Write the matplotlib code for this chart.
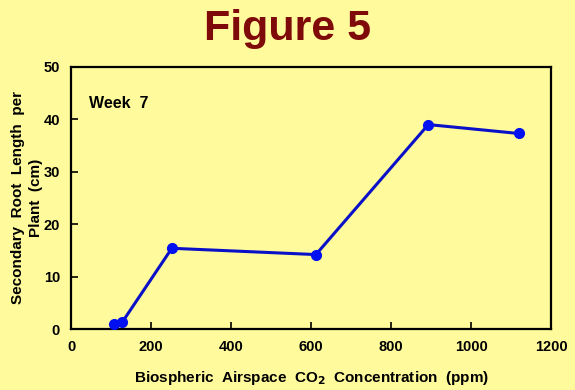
import matplotlib
matplotlib.use('Agg')
import matplotlib.pyplot as plt

co2_ppm = [108, 128, 252, 612, 893, 1119]
root_len_cm = [0.9, 1.3, 15.4, 14.2, 39.0, 37.3]
x_ticks = [0, 200, 400, 600, 800, 1000, 1200]
y_ticks = [0, 10, 20, 30, 40, 50]

bg = '#FFFA9B'
plt.rcParams['font.family'] = ['Liberation Sans', 'DejaVu Sans']
plt.rcParams['font.weight'] = 'bold'

fig = plt.figure(figsize=(5.75, 3.9), dpi=100, facecolor=bg)
ax = fig.add_axes([0.1235, 0.1564, 0.835, 0.672], facecolor=bg)

ax.plot(co2_ppm, root_len_cm, color='#0A10C8', lw=2.2, marker='o',
        ms=7, mfc='#0010F0', mec='#0010F0', zorder=3)

ax.set_xlim(0, 1200)
ax.set_ylim(0, 50)
ax.set_xticks(x_ticks)
ax.set_yticks(y_ticks)
ax.tick_params(direction='in', length=5, width=1.2, labelsize=10.5, pad=8)
for lab in ax.get_xticklabels() + ax.get_yticklabels():
    lab.set_fontweight('bold')
for s in ax.spines.values():
    s.set_linewidth(1.6)
    s.set_color('black')

ax.text(45, 43, 'Week  7', fontsize=11.5, fontweight='bold', va='center')

ax.set_xlabel('Biospheric  Airspace  CO$_\\mathbf{2}$  Concentration  (ppm)',
              fontsize=11, fontweight='bold', labelpad=11)
ax.set_ylabel('Secondary  Root  Length  per\nPlant  (cm)', fontsize=11,
              fontweight='bold', labelpad=0, linespacing=1.4)

fig.text(0.5, 0.925, 'Figure 5', ha='center', va='center', fontsize=31,
         fontweight='bold', color='#7F0A0A')

fig.savefig('out.png', facecolor=bg)
